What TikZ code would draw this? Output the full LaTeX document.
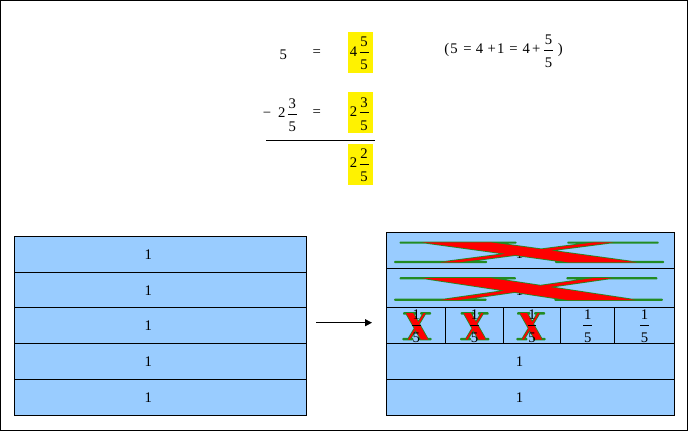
\documentclass[tikz,border=0pt]{standalone}
\usepackage{fontspec}
\setmainfont{Liberation Serif}
\usetikzlibrary{arrows.meta}
\definecolor{rowblue}{HTML}{99CCFF}
\definecolor{xgreen}{HTML}{228B22}
\newcommand\fr[2]{{\renewcommand\arraystretch{0}\setlength\arrayrulewidth{0.9pt}%
\begin{tabular}[c]{@{\kern0.8pt}c@{\kern0.8pt}}\rule[-5pt]{0pt}{19pt}#1\\\hline\rule[-2pt]{0pt}{19pt}#2\end{tabular}}}
\newcommand\Xserifs{(0.02,0) -- (0.45,0) -- (0.45,0.03) -- (0.02,0.03) -- cycle
 (0.645,0) -- (0.98,0) -- (0.98,0.03) -- (0.645,0.03) -- cycle
 (0,0.97) -- (0.34,0.97) -- (0.34,1) -- (0,1) -- cycle
 (0.6,0.97) -- (1,0.97) -- (1,1) -- (0.6,1) -- cycle}
\newcommand\Xstrokes{(0.10,0) -- (0.355,0) -- (0.90,1) -- (0.645,1) -- cycle
 (0.745,0) -- (0.815,0) -- (0.24,1) -- (0.17,1) -- cycle}
\newcommand\drawX[4]{\begin{scope}[shift={(#1,#2)}, x=#3pt, y=-#4pt]
 \draw[xgreen, line width=1.6pt, line join=round] \Xserifs \Xstrokes;
 \fill[red] \Xstrokes;
\end{scope}}
\tikzset{
 rowbox/.style={draw, line width=1pt, fill=rowblue, inner sep=0pt},
 ybox/.style={fill=yellow, inner sep=0pt, minimum width=25.3pt, minimum height=40.7pt},
 txt/.style={inner sep=0pt},
}
\begin{document}
\begin{tikzpicture}[x=1pt,y=-1pt, font=\fontsize{14.7}{17}\selectfont]
\useasboundingbox (0,0) rectangle (689,431);
\draw[line width=1pt] (0.5,0.5) rectangle (687.7,430);

% top equations
\node[txt] (t5) at (283.3,55) {5};
\node[txt] (eq1) at (316.7,53.3) {=};
\node[ybox] (b1) at (360.7,52.3) {\raisebox{-1pt}{4}\,\fr55\kern3pt};
\node[txt] (par) at (503.5,50) {(\kern1.2pt5\kern5.6pt=\kern4.2pt4\kern4.5pt+\kern1.2pt1\kern4.9pt=\kern4.8pt4\kern2.2pt+\kern3.8pt\fr55\kern4.7pt)};
\node[txt] (m23) at (279.8,114.3) {−\kern6.9pt2\,\fr35};
\node[txt] (eq2) at (316.7,113.3) {=};
\node[ybox, minimum height=41.3pt] (b2) at (360.7,112.7) {2\,\fr35\kern3pt};
\coordinate (s0) at (266,140.3);
\coordinate (s1) at (374.7,140.3);
\draw[line width=1pt] (s0) -- (s1);
\node[ybox, minimum height=41pt] (b3) at (360.7,164.2) {2\,\fr25\kern3pt};

% left stack
\foreach \i/\y in {1/254.3,2/290.3,3/325.3,4/361.3,5/397.3}{
  \node[rowbox, minimum width=292.5pt, minimum height=36pt] (L\i) at (160.25,\y) {};
  \node[txt] (L\i t) at ([xshift=-12pt]L\i.center) {1};
}

% arrow
\coordinate (a0) at (316,322.7);
\coordinate (a1) at (372,322.7);
\draw[line width=1pt, -{Triangle[length=7pt,width=7pt]}] (a0) -- (a1);

% right stack
\node[rowbox, minimum width=287.5pt, minimum height=36pt] (R1) at (530.55,250.3) {};
\node[txt] (R1t) at ([xshift=-11pt,yshift=-3.5pt]R1.center) {1};
\node[rowbox, minimum width=287.5pt, minimum height=39pt] (R2) at (530.55,287.8) {};
\node[txt] (R2t) at ([xshift=-11pt,yshift=-2.5pt]R2.center) {1};
\drawX{395}{242.3}{268.3}{20}
\drawX{395}{278}{267}{22}

\foreach \i/\x/\w in {1/416.25/58.9,2/474.5/57.6,3/532/57.4,4/587.7/54,5/644.5/59.6}{
  \node[rowbox, minimum width=\w pt, minimum height=36pt] (C\i) at (\x,325.3) {};
}
\drawX{403.25}{313}{27.5}{26.5}
\drawX{460.95}{313}{27.5}{26.5}
\drawX{517.25}{313}{27.5}{26.5}
\foreach \i in {1,...,5}{
  \node[txt] (C\i t) at (C\i.center) {\fr15};
}

\node[rowbox, minimum width=287.5pt, minimum height=36pt] (R4) at (530.55,361.3) {};
\node[txt] (R4t) at ([xshift=-11pt]R4.center) {1};
\node[rowbox, minimum width=287.5pt, minimum height=36pt] (R5) at (530.55,397.3) {};
\node[txt] (R5t) at ([xshift=-11pt]R5.center) {1};
\end{tikzpicture}
\end{document}
